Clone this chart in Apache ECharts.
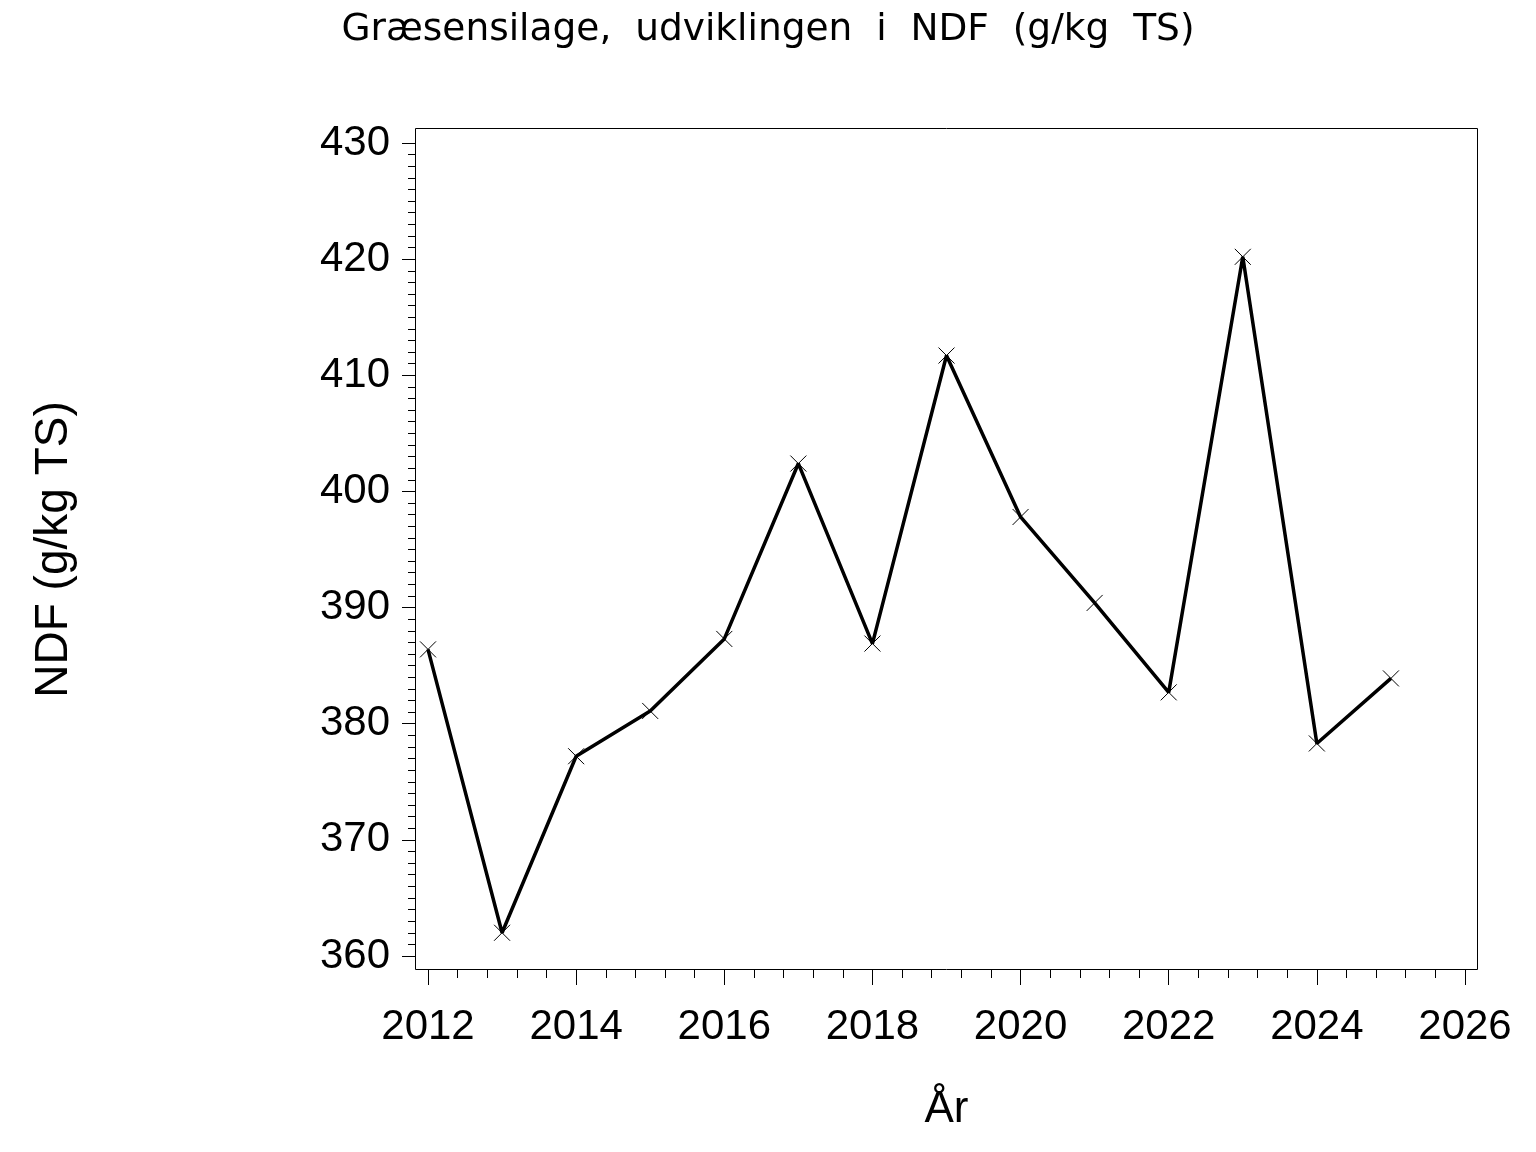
<!DOCTYPE html>
<html>
<head>
<meta charset="utf-8">
<script src="https://cdn.jsdelivr.net/npm/echarts@6/dist/echarts.min.js"></script>
<style>
html,body{margin:0;padding:0;background:#fff;}
#chart{width:1536px;height:1152px;}
</style>
</head>
<body>
<div id="chart"></div>
<script>
const years = [2012, 2013, 2014, 2015, 2016, 2017, 2018, 2019, 2020, 2021, 2022, 2023, 2024, 2025];
const ndfValues = [386.4, 362.0, 377.2, 381.1, 387.3, 402.4, 386.9, 411.7, 397.8, 390.4, 382.7, 420.2, 378.3, 383.9];
const titleText = 'Græsensilage,  udviklingen  i  NDF  (g/kg  TS)';
const xName = 'År';
const yName = 'NDF (g/kg TS)';

const chart = echarts.init(document.getElementById('chart'), null, {renderer: 'canvas'});
const labelFont = 'Liberation Sans, Arial, sans-serif';
const option = {
  animation: false,
  backgroundColor: '#fff',
  title: {
    text: titleText,
    left: 'center',
    top: 11,
    padding: 0,
    textStyle: {fontFamily: 'DejaVu Sans', fontSize: 37.5, fontWeight: 'normal', color: '#000'}
  },
  grid: {left: 428, right: 71, top: 143, bottom: 196, show: false},
  graphic: [{
    type: 'rect',
    shape: {x: 415.5, y: 128.5, width: 1062, height: 841},
    style: {fill: 'none', stroke: '#000', lineWidth: 1},
    z: 1
  }],
  xAxis: {
    type: 'value',
    min: 2012, max: 2026, interval: 2,
    offset: 14,
    name: xName,
    nameLocation: 'middle',
    nameGap: 118,
    nameTextStyle: {fontFamily: labelFont, fontSize: 44, color: '#000'},
    axisLine: {show: false},
    axisTick: {show: true, length: 15, lineStyle: {color: '#000', width: 1}},
    minorTick: {show: true, splitNumber: 5, length: 8, lineStyle: {color: '#000', width: 1}},
    splitLine: {show: false},
    axisLabel: {fontFamily: labelFont, fontSize: 42, color: '#000', margin: 36, formatter: v => String(v)}
  },
  yAxis: {
    type: 'value',
    min: 360, max: 430, interval: 10,
    offset: 13,
    name: yName,
    nameLocation: 'middle',
    nameRotate: 90,
    nameGap: 338,
    nameTextStyle: {fontFamily: labelFont, fontSize: 46, color: '#000'},
    axisLine: {show: false},
    axisTick: {show: true, length: 13, lineStyle: {color: '#000', width: 1}},
    minorTick: {show: true, splitNumber: 10, length: 7, lineStyle: {color: '#000', width: 1}},
    splitLine: {show: false},
    axisLabel: {fontFamily: labelFont, fontSize: 42, color: '#000', margin: 25, formatter: v => String(v)}
  },
  series: [{
    type: 'line',
    data: years.map((y, i) => [y, ndfValues[i]]),
    showSymbol: true,
    symbol: 'path://M0,0L10,10M10,0L0,10',
    symbolSize: 16,
    itemStyle: {color: 'rgba(0,0,0,0)', borderColor: '#000', borderWidth: 1},
    lineStyle: {color: '#000', width: 3.5},
    emphasis: {disabled: true},
    z: 3
  }]
};
chart.setOption(option);
</script>
</body>
</html>
